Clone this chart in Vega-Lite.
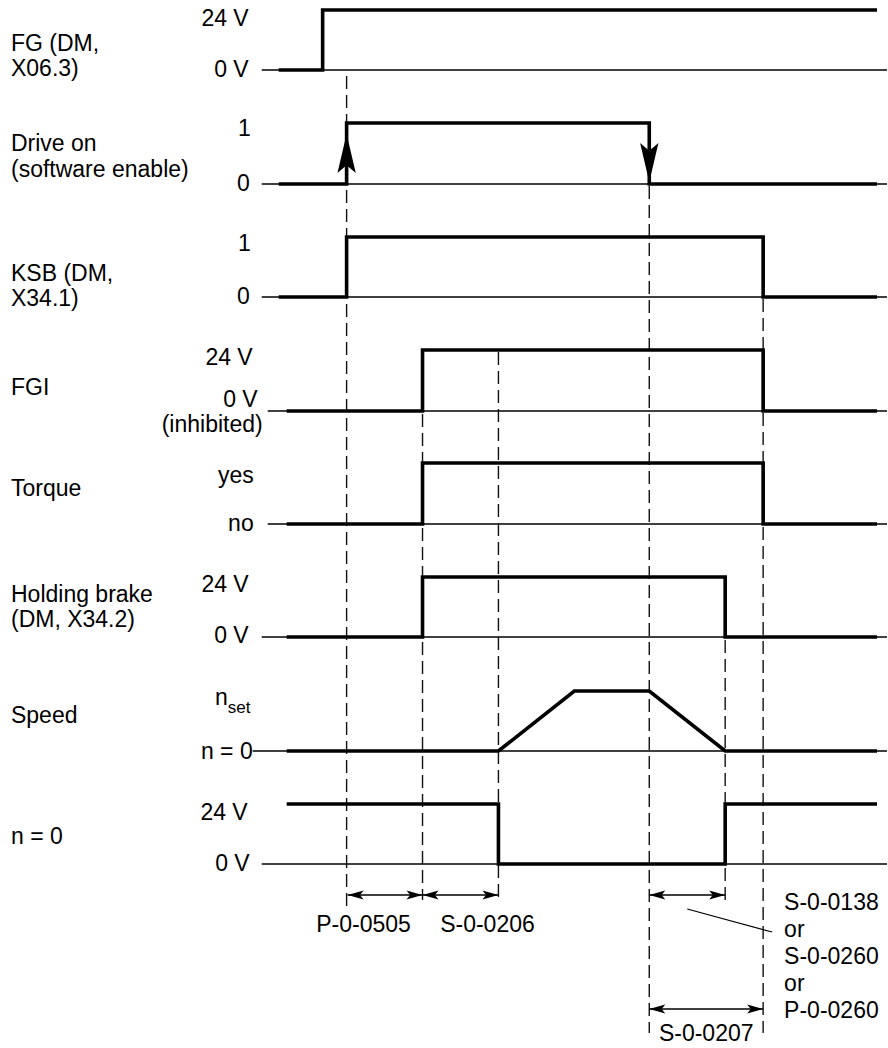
{
  "$schema": "https://vega.github.io/schema/vega-lite/v6.json",
  "width": 888,
  "height": 1048,
  "padding": 0,
  "autosize": {"type": "fit", "contains": "padding"},
  "background": "white",
  "config": {"view": {"stroke": null}, "font": "Liberation Sans"},
  "datasets": {
    "base": [
      {"x": 262, "x2": 888, "y": 70},
      {"x": 262, "x2": 888, "y": 184},
      {"x": 262, "x2": 888, "y": 297},
      {"x": 268, "x2": 888, "y": 411},
      {"x": 268, "x2": 888, "y": 524},
      {"x": 262, "x2": 888, "y": 637},
      {"x": 253, "x2": 888, "y": 751},
      {"x": 262, "x2": 888, "y": 864}
    ],
    "sig": [
      {"s": "FG", "i": 0, "x": 279, "y": 70}, {"s": "FG", "i": 1, "x": 323, "y": 70}, {"s": "FG", "i": 2, "x": 323, "y": 10}, {"s": "FG", "i": 3, "x": 878, "y": 10},
      {"s": "Drive", "i": 0, "x": 279, "y": 184}, {"s": "Drive", "i": 1, "x": 347, "y": 184}, {"s": "Drive", "i": 2, "x": 347, "y": 123}, {"s": "Drive", "i": 3, "x": 650, "y": 123}, {"s": "Drive", "i": 4, "x": 650, "y": 184}, {"s": "Drive", "i": 5, "x": 878, "y": 184},
      {"s": "KSB", "i": 0, "x": 279, "y": 297}, {"s": "KSB", "i": 1, "x": 347, "y": 297}, {"s": "KSB", "i": 2, "x": 347, "y": 237}, {"s": "KSB", "i": 3, "x": 764, "y": 237}, {"s": "KSB", "i": 4, "x": 764, "y": 297}, {"s": "KSB", "i": 5, "x": 878, "y": 297},
      {"s": "FGI", "i": 0, "x": 287, "y": 411}, {"s": "FGI", "i": 1, "x": 423, "y": 411}, {"s": "FGI", "i": 2, "x": 423, "y": 350}, {"s": "FGI", "i": 3, "x": 764, "y": 350}, {"s": "FGI", "i": 4, "x": 764, "y": 411}, {"s": "FGI", "i": 5, "x": 878, "y": 411},
      {"s": "Torque", "i": 0, "x": 287, "y": 524}, {"s": "Torque", "i": 1, "x": 423, "y": 524}, {"s": "Torque", "i": 2, "x": 423, "y": 463}, {"s": "Torque", "i": 3, "x": 764, "y": 463}, {"s": "Torque", "i": 4, "x": 764, "y": 524}, {"s": "Torque", "i": 5, "x": 878, "y": 524},
      {"s": "Brake", "i": 0, "x": 287, "y": 637}, {"s": "Brake", "i": 1, "x": 423, "y": 637}, {"s": "Brake", "i": 2, "x": 423, "y": 577}, {"s": "Brake", "i": 3, "x": 726, "y": 577}, {"s": "Brake", "i": 4, "x": 726, "y": 637}, {"s": "Brake", "i": 5, "x": 878, "y": 637},
      {"s": "Speed", "i": 0, "x": 287, "y": 751}, {"s": "Speed", "i": 1, "x": 499, "y": 751}, {"s": "Speed", "i": 2, "x": 575, "y": 691}, {"s": "Speed", "i": 3, "x": 650, "y": 691}, {"s": "Speed", "i": 4, "x": 726, "y": 751}, {"s": "Speed", "i": 5, "x": 878, "y": 751},
      {"s": "N0", "i": 0, "x": 287, "y": 804}, {"s": "N0", "i": 1, "x": 499, "y": 804}, {"s": "N0", "i": 2, "x": 499, "y": 864}, {"s": "N0", "i": 3, "x": 726, "y": 864}, {"s": "N0", "i": 4, "x": 726, "y": 804}, {"s": "N0", "i": 5, "x": 878, "y": 804}
    ],
    "dash": [
      {"x": 347, "y": 76, "y2": 910},
      {"x": 423, "y": 414, "y2": 900},
      {"x": 499, "y": 352, "y2": 900},
      {"x": 650, "y": 186, "y2": 1033},
      {"x": 726, "y": 640, "y2": 902},
      {"x": 764, "y": 299, "y2": 1033}
    ],
    "dim": [
      {"x": 348, "x2": 423, "y": 895},
      {"x": 423, "x2": 499, "y": 895},
      {"x": 650, "x2": 726, "y": 895},
      {"x": 650, "x2": 764, "y": 1009}
    ],
    "headL": [
      {"x": 348, "y": 895}, {"x": 423, "y": 895}, {"x": 650, "y": 895}, {"x": 650, "y": 1009}
    ],
    "headR": [
      {"x": 423, "y": 895}, {"x": 499, "y": 895}, {"x": 726, "y": 895}, {"x": 764, "y": 1009}
    ],
    "leader": [{"x": 688, "y": 909, "x2": 773, "y2": 932}],
    "up": [{"x": 347, "y": 134}],
    "down": [{"x": 650, "y": 182}],
    "tLeft": [
      {"x": 11, "y": 44, "t": "FG (DM,"},
      {"x": 11, "y": 69, "t": "X06.3)"},
      {"x": 11, "y": 144, "t": "Drive on"},
      {"x": 11, "y": 170, "t": "(software enable)"},
      {"x": 11, "y": 274, "t": "KSB (DM,"},
      {"x": 11, "y": 299, "t": "X34.1)"},
      {"x": 11, "y": 388, "t": "FGI"},
      {"x": 11, "y": 489, "t": "Torque"},
      {"x": 11, "y": 595, "t": "Holding brake"},
      {"x": 11, "y": 620, "t": "(DM, X34.2)"},
      {"x": 11, "y": 716, "t": "Speed"},
      {"x": 11, "y": 837, "t": "n = 0"},
      {"x": 785, "y": 903, "t": "S-0-0138"},
      {"x": 785, "y": 930, "t": "or"},
      {"x": 785, "y": 957, "t": "S-0-0260"},
      {"x": 785, "y": 984, "t": "or"},
      {"x": 785, "y": 1011, "t": "P-0-0260"}
    ],
    "tRight": [
      {"x": 249, "y": 19, "t": "24 V"},
      {"x": 249, "y": 70, "t": "0 V"},
      {"x": 251, "y": 129, "t": "1"},
      {"x": 250, "y": 184, "t": "0"},
      {"x": 251, "y": 244, "t": "1"},
      {"x": 250, "y": 297, "t": "0"},
      {"x": 253, "y": 358, "t": "24 V"},
      {"x": 258, "y": 400, "t": "0 V"},
      {"x": 263, "y": 425, "t": "(inhibited)"},
      {"x": 254, "y": 476, "t": "yes"},
      {"x": 254, "y": 524, "t": "no"},
      {"x": 249, "y": 585, "t": "24 V"},
      {"x": 249, "y": 636, "t": "0 V"},
      {"x": 228, "y": 698, "t": "n"},
      {"x": 253, "y": 752, "t": "n = 0"},
      {"x": 248, "y": 813, "t": "24 V"},
      {"x": 250, "y": 864, "t": "0 V"}
    ],
    "tSub": [{"x": 228, "y": 708, "t": "set"}],
    "tCenter": [
      {"x": 364, "y": 925, "t": "P-0-0505"},
      {"x": 488, "y": 925, "t": "S-0-0206"},
      {"x": 707, "y": 1034, "t": "S-0-0207"}
    ]
  },
  "encoding": {
    "x": {"field": "x", "type": "quantitative", "axis": null, "scale": {"domain": [0, 888], "nice": false, "zero": false}},
    "y": {"field": "y", "type": "quantitative", "axis": null, "scale": {"domain": [0, 1048], "nice": false, "zero": false, "reverse": true}}
  },
  "layer": [
    {
      "data": {"name": "base"},
      "mark": {"type": "rule", "color": "black", "strokeWidth": 1.4},
      "encoding": {"x2": {"field": "x2"}}
    },
    {
      "data": {"name": "dash"},
      "mark": {"type": "rule", "color": "#111", "strokeWidth": 1.4, "strokeDash": [13, 6]},
      "encoding": {"y2": {"field": "y2"}}
    },
    {
      "data": {"name": "sig"},
      "mark": {"type": "line", "color": "black", "strokeWidth": 3.6, "strokeJoin": "miter", "strokeCap": "butt"},
      "encoding": {"detail": {"field": "s"}, "order": {"field": "i", "type": "quantitative"}}
    },
    {
      "data": {"name": "dim"},
      "mark": {"type": "rule", "color": "black", "strokeWidth": 1.4},
      "encoding": {"x2": {"field": "x2"}}
    },
    {
      "data": {"name": "leader"},
      "mark": {"type": "rule", "color": "black", "strokeWidth": 1.2},
      "encoding": {"x2": {"field": "x2"}, "y2": {"field": "y2"}}
    },
    {
      "data": {"name": "headL"},
      "mark": {"type": "point", "shape": "M0,0L2,-0.55L1.55,0L2,0.55Z", "size": 256, "filled": true, "color": "black", "opacity": 1, "strokeWidth": 0}
    },
    {
      "data": {"name": "headR"},
      "mark": {"type": "point", "shape": "M0,0L-2,-0.55L-1.55,0L-2,0.55Z", "size": 256, "filled": true, "color": "black", "opacity": 1, "strokeWidth": 0}
    },
    {
      "data": {"name": "up"},
      "mark": {"type": "point", "shape": "M0,0L-0.47,2L0,1.6L0.47,2Z", "size": 1521, "filled": true, "color": "black", "opacity": 1, "strokeWidth": 0}
    },
    {
      "data": {"name": "down"},
      "mark": {"type": "point", "shape": "M0,0L-0.47,-2L0,-1.6L0.47,-2Z", "size": 1521, "filled": true, "color": "black", "opacity": 1, "strokeWidth": 0}
    },
    {
      "data": {"name": "tLeft"},
      "mark": {"type": "text", "align": "left", "baseline": "middle", "fontSize": 23, "color": "black"},
      "encoding": {"text": {"field": "t"}}
    },
    {
      "data": {"name": "tRight"},
      "mark": {"type": "text", "align": "right", "baseline": "middle", "fontSize": 23, "color": "black"},
      "encoding": {"text": {"field": "t"}}
    },
    {
      "data": {"name": "tSub"},
      "mark": {"type": "text", "align": "left", "baseline": "middle", "fontSize": 17, "color": "black"},
      "encoding": {"text": {"field": "t"}}
    },
    {
      "data": {"name": "tCenter"},
      "mark": {"type": "text", "align": "center", "baseline": "middle", "fontSize": 23, "color": "black"},
      "encoding": {"text": {"field": "t"}}
    }
  ]
}
